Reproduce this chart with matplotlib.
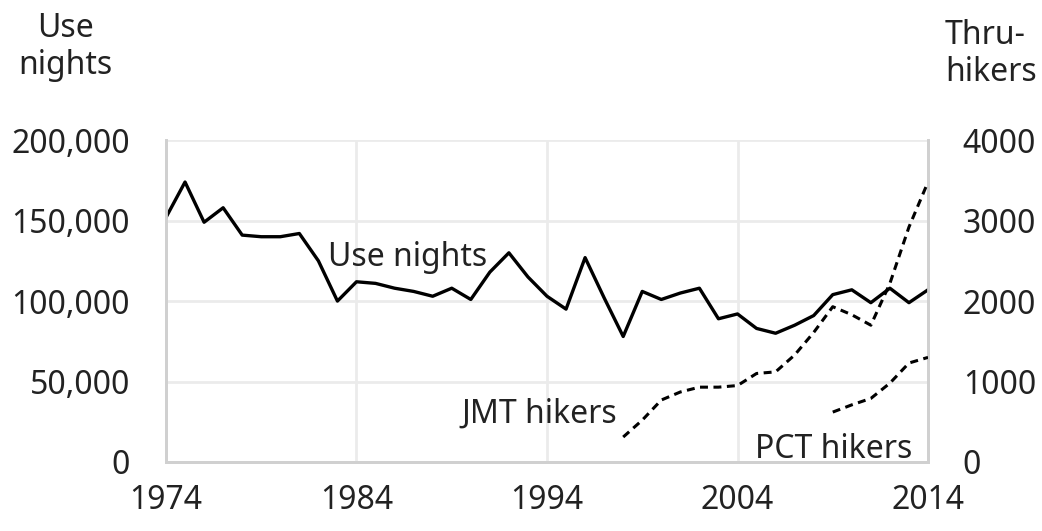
import matplotlib
matplotlib.use("Agg")
from matplotlib import pyplot as plt

# use nights per year, 1974-2014
years = list(range(1974, 2015))
use_nights = [152000, 174000, 149000, 158000, 141000, 140000, 140000, 142000, 125000, 100000,
              112000, 111000, 108000, 106000, 103000, 108000, 101000, 118000, 130000, 115000,
              103000, 95000, 127000, 102000, 78000, 106000, 101000, 105000, 108000, 89000,
              92000, 83000, 80000, 85000, 91000, 104000, 107000, 99000, 108000, 99000, 107000]

# thru-hikers
jmt_years = list(range(1998, 2015))
jmt_hikers = [310, 520, 770, 870, 930, 930, 950, 1100, 1120, 1330, 1610, 1930, 1830, 1700, 2220, 2920, 3480]

pct_years = list(range(2009, 2015))
pct_hikers = [620, 710, 790, 980, 1230, 1300]

plt.rcParams['font.family'] = ['Noto Sans', 'DejaVu Sans']
txt = '#222222'
grid_c = '#ebebeb'
spine_c = '#d0d0d0'
fs = 23

fig = plt.figure(figsize=(10.42, 5.31), dpi=100)
ax = fig.add_axes([0.1593, 0.130, 0.7313, 0.606])
ax2 = ax.twinx()

ax.plot(years, use_nights, color='black', linewidth=2.4, solid_joinstyle='round', zorder=3)
ax2.plot(jmt_years, jmt_hikers, color='black', linewidth=2.2, dashes=(2.6, 1.8), zorder=3)
ax2.plot(pct_years, pct_hikers, color='black', linewidth=2.2, dashes=(2.6, 1.8), zorder=3)

ax.set_xlim(1974, 2014)
ax.set_ylim(0, 200000)
ax2.set_ylim(0, 4000)
ax.set_xticks([1974, 1984, 1994, 2004, 2014])
ax.set_yticks([0, 50000, 100000, 150000, 200000])
ax.set_yticklabels(['0', '50,000', '100,000', '150,000', '200,000'])
ax2.set_yticks([0, 1000, 2000, 3000, 4000])

ax.grid(True, color=grid_c, linewidth=2)
ax.set_axisbelow(True)
for a in (ax, ax2):
    a.spines['top'].set_visible(False)
    for s in ('left', 'bottom', 'right'):
        a.spines[s].set_color(spine_c)
        a.spines[s].set_linewidth(2)
    a.tick_params(length=0, labelsize=fs, colors=txt)
ax.tick_params(axis='y', pad=26)
ax.tick_params(axis='x', pad=16)
ax2.tick_params(axis='y', pad=25)

ax.text(1982.5, 121700, 'Use nights', fontsize=fs, color=txt, va='baseline', ha='left')
ax2.text(1989.5, 484, 'JMT hikers', fontsize=fs, color=txt, va='baseline', ha='left')
ax2.text(2004.9, 50, 'PCT hikers', fontsize=fs, color=txt, va='baseline', ha='left')

fig.text(0.0624, 0.911, 'Use\nnights', fontsize=fs, color=txt, ha='center', va='center', linespacing=1.15)
fig.text(0.907, 0.898, 'Thru-\nhikers', fontsize=fs, color=txt, ha='left', va='center',
         multialignment='left', linespacing=1.15)

fig.savefig('out.png', dpi=100)
